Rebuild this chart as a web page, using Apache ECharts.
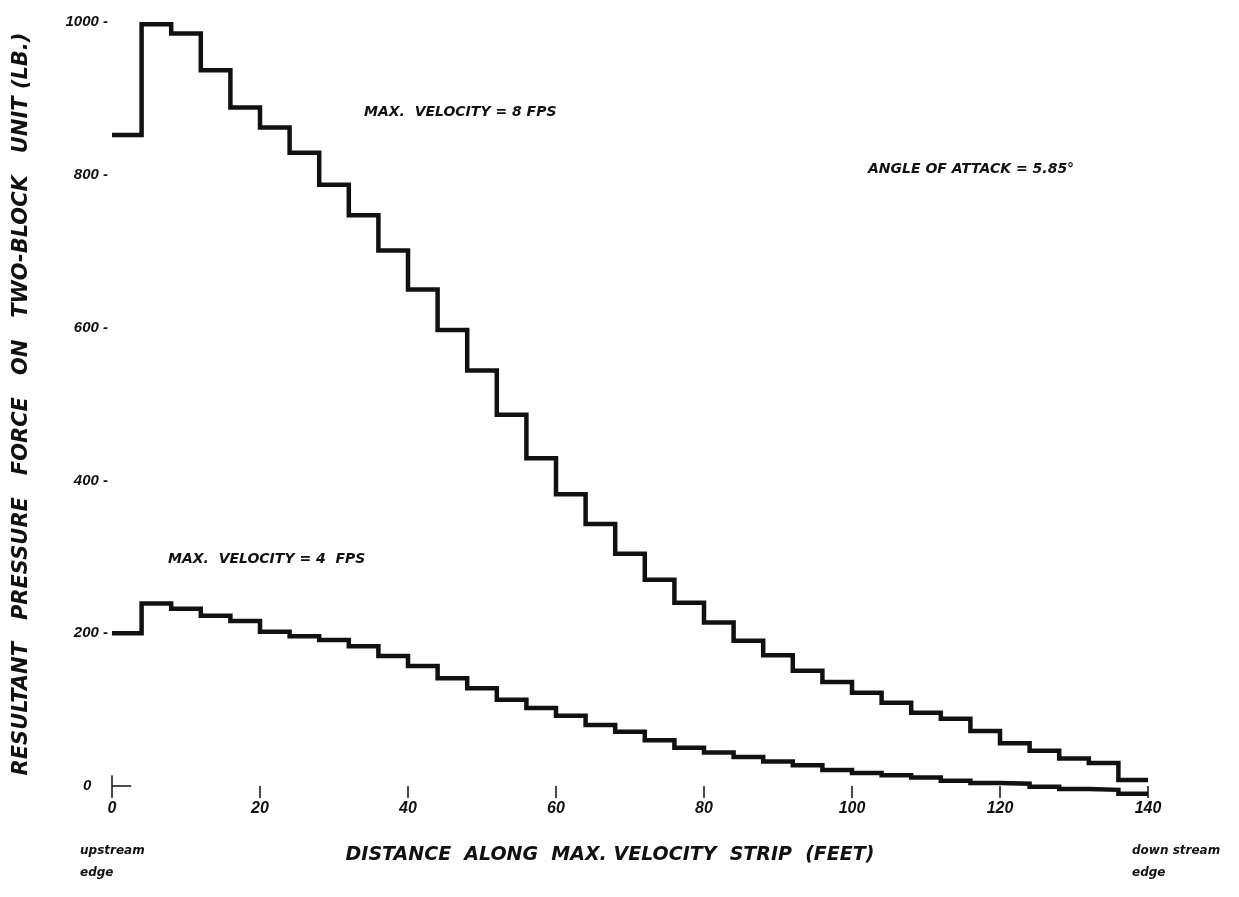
<!DOCTYPE html>
<html>
<head>
<meta charset="utf-8">
<script src="https://cdn.jsdelivr.net/npm/echarts@6/dist/echarts.min.js"></script>
<style>
  html, body { margin: 0; padding: 0; background: #ffffff; }
  #chart { width: 1239px; height: 897px; }
</style>
</head>
<body>
<div id="chart"></div>
<script>
// Left edge (feet) of each two-block unit along the strip, plus the final right edge
const blockEdges = [0, 4, 8, 12, 16, 20, 24, 28, 32, 36, 40, 44, 48, 52, 56, 60, 64, 68,
  72, 76, 80, 84, 88, 92, 96, 100, 104, 108, 112, 116, 120, 124, 128, 132, 136, 140];

// Resultant pressure force (lb) per unit, max velocity 8 fps
const force8fps = [852, 997, 985, 937, 888, 862, 829, 787, 747, 701, 650, 597, 544, 486,
  429, 382, 343, 304, 270, 240, 214, 190, 171, 151, 136, 122, 109, 96, 88, 72, 56, 46, 36, 30, 8];

// Resultant pressure force (lb) per unit, max velocity 4 fps
const force4fps = [200, 239, 232, 223, 216, 202, 196, 191, 183, 170, 157, 141, 128, 113,
  102, 92, 80, 71, 60, 50, 44, 38, 32, 27, 21, 17, 14, 11, 7, 4, 3, -1, -4, -5, -10];

const xTicks = [0, 20, 40, 60, 80, 100, 120, 140];
const yTicks = [0, 200, 400, 600, 800, 1000];

function stepData(vals) {
  const d = vals.map((v, i) => [blockEdges[i], v]);
  d.push([blockEdges[vals.length], vals[vals.length - 1]]);
  return d;
}

const ink = '#111111';
const letterFont = '"DejaVu Sans"';
const chart = echarts.init(document.getElementById('chart'));
chart.setOption({
  backgroundColor: '#ffffff',
  animation: false,
  grid: { left: 112, right: 91, top: 22, bottom: 111, containLabel: false },
  xAxis: {
    type: 'value', min: xTicks[0], max: xTicks[xTicks.length - 1], interval: 20,
    splitLine: { show: false },
    axisLine: { show: false },
    axisTick: { show: true, length: 12, lineStyle: { color: ink, width: 1.5 } },
    axisLabel: { margin: 15, color: ink, fontSize: 16, fontStyle: 'italic', fontWeight: 'bold', fontFamily: 'Liberation Sans' },
    name: 'DISTANCE  ALONG  MAX. VELOCITY  STRIP  (FEET)',
    nameLocation: 'middle', nameGap: 60,
    nameTextStyle: { color: ink, fontSize: 19, fontStyle: 'italic', fontWeight: 'bold', fontFamily: 'DejaVu Sans', padding: [0, 40, 0, 0] }
  },
  yAxis: {
    type: 'value', min: yTicks[0], max: yTicks[yTicks.length - 1], interval: 200,
    splitLine: { show: false },
    axisLine: { show: false },
    axisTick: { show: false },
    axisLabel: {
      margin: 4, color: ink, fontSize: 15, fontStyle: 'italic', fontWeight: 'bold', fontFamily: 'Liberation Sans',
      formatter: v => v === 0 ? '0    ' : v + ' -'
    },
    name: 'RESULTANT   PRESSURE   FORCE   ON   TWO-BLOCK   UNIT (LB.)',
    nameLocation: 'middle', nameGap: 80,
    nameTextStyle: { color: ink, fontSize: 21, fontStyle: 'italic', fontWeight: 'bold', fontFamily: 'DejaVu Sans' }
  },
  graphic: [
    { type: 'text', left: 364, top: 105, style: { text: 'MAX.  VELOCITY = 8 FPS', fill: ink, font: 'italic bold 14px ' + letterFont } },
    { type: 'text', left: 868, top: 162, style: { text: 'ANGLE OF ATTACK = 5.85°', fill: ink, font: 'italic bold 14px ' + letterFont } },
    { type: 'text', left: 168, top: 552, style: { text: 'MAX.  VELOCITY = 4  FPS', fill: ink, font: 'italic bold 14px ' + letterFont } },
    { type: 'text', left: 80, top: 840, style: { text: 'upstream\nedge', fill: ink, lineHeight: 22, font: 'italic bold 12px ' + letterFont } },
    { type: 'text', left: 1132, top: 840, style: { text: 'down stream\nedge', fill: ink, lineHeight: 22, font: 'italic bold 12px ' + letterFont } }
  ],
  series: [
    {
      name: '8 fps', type: 'line', step: 'end', symbol: 'none', clip: false,
      data: stepData(force8fps),
      lineStyle: { color: ink, width: 4.5, join: 'miter', cap: 'butt' }
    },
    {
      name: '4 fps', type: 'line', step: 'end', symbol: 'none', clip: false,
      data: stepData(force4fps),
      lineStyle: { color: ink, width: 4.5, join: 'miter', cap: 'butt' }
    },
    {
      name: 'origin', type: 'line', symbol: 'none', clip: false, silent: true,
      data: [],
      markLine: {
        silent: true, symbol: ['none', 'none'], animation: false,
        label: { show: false },
        lineStyle: { color: ink, width: 1.5, type: 'solid' },
        data: [
          [{ coord: [0, 14] }, { coord: [0, 0] }],
          [{ coord: [0, 0] }, { coord: [2.6, 0] }]
        ]
      }
    }
  ]
});
</script>
</body>
</html>
